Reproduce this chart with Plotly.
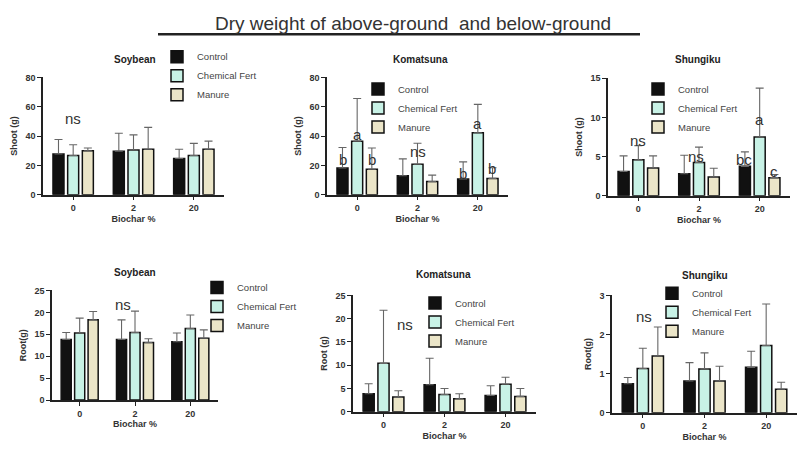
import plotly.graph_objects as go

W, H = 797, 449

biochar = ["0", "2", "20"]
treatments = ["Control", "Chemical Fert", "Manure"]
colors = ["#111111", "#c8f2e6", "#ebe5c8"]

# Shoot dry weight (g): mean and top of error bar
soy_shoot = [[27.8, 29.6, 24.7], [26.7, 30.5, 26.7], [30.0, 31.0, 31.0]]
soy_shoot_err = [[37.6, 41.9, 31.0], [34.0, 40.8, 35.0], [31.8, 45.9, 36.5]]
kom_shoot = [[18.2, 12.9, 10.7], [36.4, 20.7, 42.2], [17.3, 8.9, 11.1]]
kom_shoot_err = [[32.2, 24.4, 22.4], [65.6, 35.1, 61.6], [31.8, 13.3, 18.4]]
shu_shoot = [[3.08, 2.80, 3.75], [4.58, 4.25, 7.50], [3.54, 2.38, 2.30]]
shu_shoot_err = [[5.08, 5.17, 5.60], [6.40, 6.20, 13.75], [5.08, 3.50, 2.70]]

# Root dry weight (g)
soy_root = [[13.8, 13.8, 13.3], [15.3, 15.4, 16.3], [18.3, 13.1, 14.1]]
soy_root_err = [[15.4, 18.3, 15.3], [18.7, 20.3, 19.4], [20.2, 14.0, 16.0]]
kom_root = [[3.85, 5.8, 3.5], [10.4, 3.7, 5.9], [3.15, 2.8, 3.3]]
kom_root_err = [[6.0, 11.5, 5.6], [21.8, 5.0, 7.4], [4.5, 3.85, 5.0]]
shu_root = [[0.74, 0.81, 1.16], [1.13, 1.12, 1.72], [1.45, 0.81, 0.60]]
shu_root_err = [[0.90, 1.28, 1.57], [1.65, 1.53, 2.78], [2.19, 1.19, 0.78]]

# Significance letters: (category position, y value, text)
soy_shoot_sig = [(0.0, 52, "ns")]
kom_shoot_sig = [(-0.243, 24, "b"), (0.0, 41.3, "a"), (0.243, 24, "b"),
                 (1.0, 29.3, "ns"),
                 (1.757, 14.7, "b"), (2.0, 48.7, "a"), (2.243, 18.0, "b")]
shu_shoot_sig = [(0.0, 7.0, "ns"), (0.95, 5.0, "ns"),
                 (1.74, 4.6, "bc"), (2.0, 9.75, "a"), (2.24, 3.1, "c")]
soy_root_sig = [(0.78, 21.9, "ns")]
kom_root_sig = [(0.35, 18.7, "ns")]
shu_root_sig = [(0.02, 2.47, "ns")]

panels = [
    dict(title="Soybean", ytitle="Shoot (g)", data=soy_shoot, err=soy_shoot_err, sig=soy_shoot_sig,
         box=(43, 224, 74, 194), yr=80, dt=20, ttl=(135, 56), leg=(157, 38)),
    dict(title="Komatsuna", ytitle="Shoot (g)", data=kom_shoot, err=kom_shoot_err, sig=kom_shoot_sig,
         box=(327, 508, 74, 194), yr=80, dt=20, ttl=(420, 56), leg=(358, 71)),
    dict(title="Shungiku", ytitle="Shoot (g)", data=shu_shoot, err=shu_shoot_err, sig=shu_shoot_sig,
         box=(608, 790, 75, 195), yr=15, dt=5, ttl=(698, 56), leg=(638, 71)),
    dict(title="Soybean", ytitle="Root(g)", data=soy_root, err=soy_root_err, sig=soy_root_sig,
         box=(52, 218, 292, 404), yr=25, dt=5, ttl=(135, 274), leg=(197, 274)),
    dict(title="Komatsuna", ytitle="Root (g)", data=kom_root, err=kom_root_err, sig=kom_root_sig,
         box=(353, 536, 297, 416), yr=25, dt=5, ttl=(443, 276), leg=(415, 290)),
    dict(title="Shungiku", ytitle="Root(g)", data=shu_root, err=shu_root_err, sig=shu_root_sig,
         box=(612, 797, 297, 417), yr=3, dt=1, ttl=(705, 277), leg=(652, 280)),
]

FONT = "Liberation Sans, Arial"
fig = go.Figure()
annotations = []
layout = {}
for i, p in enumerate(panels):
    n = i + 1
    xa = "x" if n == 1 else f"x{n}"
    ya = "y" if n == 1 else f"y{n}"
    lg = "legend" if n == 1 else f"legend{n}"
    for t in range(3):
        vals = p["data"][t]
        up = [e - v for e, v in zip(p["err"][t], vals)]
        fig.add_trace(go.Bar(
            x=biochar, y=vals, name=treatments[t], xaxis=xa, yaxis=ya, legend=lg,
            marker=dict(color=colors[t], line=dict(color="#111111", width=1.5)),
            error_y=dict(type="data", symmetric=False, array=up, arrayminus=[0, 0, 0],
                         color="#666666", thickness=1.1, width=4),
        ))
    x0, x1, y0, y1 = p["box"]
    axfont = dict(family=FONT, size=9, color="#333333", weight="bold")
    layout[f"xaxis{'' if n == 1 else n}"] = dict(
        domain=[x0 / W, x1 / W], anchor=ya, type="category", categoryarray=biochar,
        range=[-0.5, 2.5], showline=True, linecolor="#222222", linewidth=1.5,
        ticks="outside", ticklen=4, tickcolor="#222222", tickwidth=1.2,
        tickfont=axfont, title=dict(text="Biochar %", standoff=3, font=axfont),
        showgrid=False, zeroline=False, fixedrange=True,
    )
    layout[f"yaxis{'' if n == 1 else n}"] = dict(
        domain=[1 - y1 / H, 1 - y0 / H], anchor=xa, range=[0, p["yr"]], dtick=p["dt"],
        showline=True, linecolor="#222222", linewidth=1.5,
        ticks="outside", ticklen=4, tickcolor="#222222", tickwidth=1.2,
        tickfont=axfont, title=dict(text=p["ytitle"], standoff=6, font=axfont),
        showgrid=False, zeroline=False, fixedrange=True,
    )
    lx, ly = p["leg"]
    layout[lg] = dict(x=lx / W, y=1 - ly / H, xanchor="left", yanchor="top",
                      font=dict(family=FONT, size=9.5, color="#444444"),
                      bgcolor="rgba(0,0,0,0)", tracegroupgap=0, itemclick=False)
    tx, ty = p["ttl"]
    annotations.append(dict(text=p["title"], x=tx / W, y=1 - ty / H, xref="paper", yref="paper",
                            showarrow=False, xanchor="center", yanchor="middle",
                            font=dict(family=FONT, size=10, color="#222222", weight="bold")))
    for sx, sy, st in p["sig"]:
        annotations.append(dict(text=st, x=sx, y=sy, xref=xa, yref=ya, showarrow=False,
                                xanchor="center", yanchor="middle",
                                font=dict(family=FONT, size=15, color="#333333")))

annotations.append(dict(text="Dry weight of above-ground  and below-ground", x=413 / W, y=1 - 19 / H,
                        xref="paper", yref="paper", showarrow=False, xanchor="center",
                        yanchor="middle", font=dict(family=FONT, size=19, color="#333333")))

fig.update_layout(
    width=W, height=H, margin=dict(l=0, r=0, t=0, b=0),
    paper_bgcolor="white", plot_bgcolor="white",
    barmode="group", bargap=0.27, bargroupgap=0.25,
    annotations=annotations,
    shapes=[dict(type="line", xref="paper", yref="paper", x0=158 / W, x1=640 / W,
                 y0=1 - 30 / H, y1=1 - 30 / H, line=dict(color="#222222", width=2.5))],
    **layout,
)
fig.write_html("out.html", config={"displayModeBar": False},
               post_script="document.body.style.margin='0';document.body.style.padding='0';")
